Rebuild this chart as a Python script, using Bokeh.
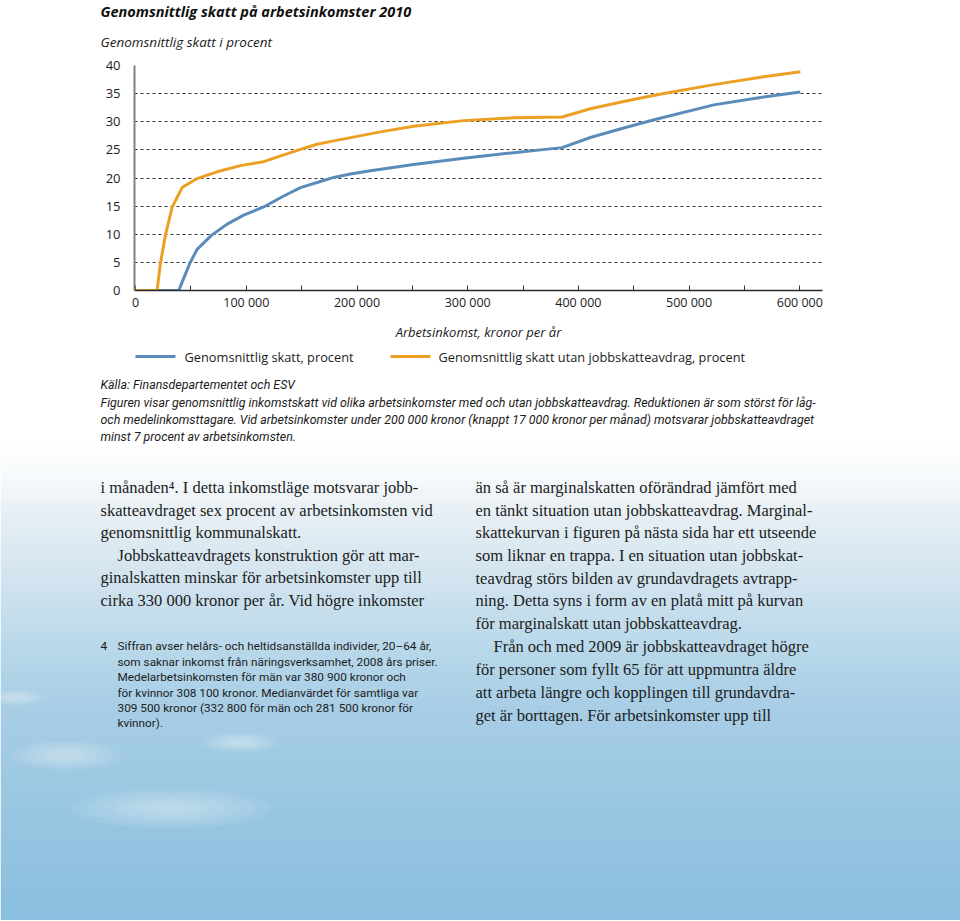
import numpy as np
from bokeh.plotting import figure
from bokeh.models import Range1d, FixedTicker
from bokeh.layouts import column
from bokeh.embed import file_html
from bokeh.resources import INLINE
from bokeh.core.properties import value

# ---------------- data ----------------
inkomst_skatt = [0, 39000, 43500, 48900, 55500, 68500, 82700, 97700, 115700,
                 133800, 148900, 164000, 179000, 194000, 212100, 251200, 296400,
                 341600, 365700, 385300, 410800, 440900, 471000, 522300, 567400, 600500]
skatt = [0, 0, 2.2, 4.8, 7.3, 9.8, 11.8, 13.4, 14.85,
         16.8, 18.3, 19.2, 20.1, 20.7, 21.3, 22.4, 23.5,
         24.5, 25.0, 25.4, 27.2, 28.9, 30.5, 33.0, 34.4, 35.3]

inkomst_utan = [0, 19400, 22400, 26900, 33000, 42000, 55500, 73600, 94700, 115700,
                133800, 148900, 164000, 179000, 200100, 221100, 251200, 296400,
                341600, 385300, 410800, 440900, 471000, 522300, 567400, 600500]
skatt_utan = [0, 0, 4.8, 9.8, 14.8, 18.3, 19.9, 21.1, 22.2, 22.9,
              24.1, 25.1, 26.0, 26.6, 27.4, 28.2, 29.2, 30.2,
              30.7, 30.85, 32.3, 33.6, 34.8, 36.6, 38.0, 38.9]

x_ticks = [0, 50000, 100000, 150000, 200000, 250000, 300000, 350000,
           400000, 450000, 500000, 550000, 600000]
x_tick_labels = ["0", "", "100 000", "", "200 000", "", "300 000", "",
                 "400 000", "", "500 000", "", "600 000"]
y_ticks = [0, 5, 10, 15, 20, 25, 30, 35, 40]

title_text = "Genomsnittlig skatt på arbetsinkomster 2010"
subtitle_text = "Genomsnittlig skatt i procent"
x_title = "Arbetsinkomst, kronor per år"
series_names = ["Genomsnittlig skatt, procent",
                "Genomsnittlig skatt utan jobbskatteavdrag, procent"]

source_lines = [
    "Källa: Finansdepartementet och ESV",
    "Figuren visar genomsnittlig inkomstskatt vid olika arbetsinkomster med och utan jobbskatteavdrag. Reduktionen är som störst för låg-",
    "och medelinkomsttagare. Vid arbetsinkomster under 200 000 kronor (knappt 17 000 kronor per månad) motsvarar jobbskatteavdraget",
    "minst 7 procent av arbetsinkomsten.",
]
left_col = [
    ("i månaden⁴. I detta inkomstläge motsvarar jobb-", 0),
    ("skatteavdraget sex procent av arbetsinkomsten vid", 0),
    ("genomsnittlig kommunalskatt.", 0),
    ("Jobbskatteavdragets konstruktion gör att mar-", 1),
    ("ginalskatten minskar för arbetsinkomster upp till", 0),
    ("cirka 330 000 kronor per år. Vid högre inkomster", 0),
]
right_col = [
    ("än så är marginalskatten oförändrad jämfört med", 0),
    ("en tänkt situation utan jobbskatteavdrag. Marginal-", 0),
    ("skattekurvan i figuren på nästa sida har ett utseende", 0),
    ("som liknar en trappa. I en situation utan jobbskat-", 0),
    ("teavdrag störs bilden av grundavdragets avtrapp-", 0),
    ("ning. Detta syns i form av en platå mitt på kurvan", 0),
    ("för marginalskatt utan jobbskatteavdrag.", 0),
    ("Från och med 2009 är jobbskatteavdraget högre", 1),
    ("för personer som fyllt 65 för att uppmuntra äldre", 0),
    ("att arbeta längre och kopplingen till grundavdra-", 0),
    ("get är borttagen. För arbetsinkomster upp till", 0),
]
footnote_no = "4"
footnote = [
    "Siffran avser helårs- och heltidsanställda individer, 20–64 år,",
    "som saknar inkomst från näringsverksamhet, 2008 års priser.",
    "Medelarbetsinkomsten för män var 380 900 kronor och",
    "för kvinnor 308 100 kronor. Medianvärdet för samtliga var",
    "309 500 kronor (332 800 för män och 281 500 kronor för",
    "kvinnor).",
]

BLUE = "#5a8cba"
ORANGE = "#eca023"
SANS = "'Open Sans', 'Noto Sans', sans-serif"
COND = "Roboto, 'Open Sans', sans-serif"
SERIF = "'Liberation Serif', 'DejaVu Serif', serif"
TXT = "#1c1c1c"

W = 960

# ---------------- top text strip ----------------
HT = 57
pT = figure(width=W, height=HT, output_backend="svg", toolbar_location=None,
            x_range=Range1d(0, W), y_range=Range1d(0, HT),
            x_axis_type=None, y_axis_type=None, min_border=0, frame_align=False)
pT.outline_line_color = None
pT.text(x=[100], y=[HT - 11], text=[title_text], text_font=value(SANS),
        text_font_size="14.5px", text_font_style="bold italic",
        text_baseline="middle", text_color="#111111")
pT.text(x=[100], y=[HT - 41], text=[subtitle_text], text_font=value(SANS),
        text_font_size="13.5px", text_font_style="italic",
        text_baseline="middle", text_color=TXT)

# ---------------- chart ----------------
HA = 288
pA = figure(width=W, height=HA, output_backend="svg", toolbar_location=None,
            x_range=Range1d(-1000, 620500), y_range=Range1d(0, 40),
            min_border_left=134, min_border_right=138, min_border_top=8,
            min_border_bottom=55, frame_align=False)
pA.outline_line_color = None
pA.xgrid.visible = False
pA.ygrid.ticker = FixedTicker(ticks=y_ticks)
pA.ygrid.grid_line_color = "#3a3a3a"
pA.ygrid.grid_line_width = 1.2
pA.ygrid.grid_line_dash = "3 3"

ya = pA.yaxis[0]
ya.ticker = FixedTicker(ticks=y_ticks)
ya.major_tick_line_color = None
ya.minor_tick_line_color = None
ya.axis_line_color = "#808080"
ya.axis_line_width = 2
ya.major_label_text_font = SANS
ya.major_label_text_font_size = "13px"
ya.major_label_text_color = TXT
ya.major_label_standoff = 8

xa = pA.xaxis[0]
xa.ticker = FixedTicker(ticks=x_ticks)
xa.major_label_overrides = dict(zip(x_ticks, x_tick_labels))
xa.major_tick_in = 5
xa.major_tick_out = 0
xa.major_tick_line_color = "#333333"
xa.minor_tick_line_color = None
xa.axis_line_color = "#2a2a2a"
xa.axis_line_width = 1.5
xa.major_label_text_font = SANS
xa.major_label_text_font_size = "12.5px"
xa.major_label_text_color = TXT
xa.major_label_standoff = 3
xa.axis_label = x_title
xa.axis_label_text_font = SANS
xa.axis_label_text_font_size = "13px"
xa.axis_label_text_font_style = "italic"
xa.axis_label_text_color = TXT
xa.axis_label_standoff = 9

pA.line(inkomst_skatt, skatt, line_color=BLUE, line_width=3)
pA.line(inkomst_utan, skatt_utan, line_color=ORANGE, line_width=3)

# ---------------- lower page part (legend, notes, body) ----------------
TOP = HT + HA
BOT = 920
HB = BOT - TOP
pB = figure(width=W, height=HB, output_backend="svg", toolbar_location=None,
            x_range=Range1d(0, W), y_range=Range1d(0, HB),
            x_axis_type=None, y_axis_type=None, min_border=0, frame_align=False)
pB.outline_line_color = None

def Y(py):
    return BOT - py

stop_y = [TOP, 445, 475, 520, 580, 640, 700, 780, 920]
stop_r = [255, 255, 247, 229, 210, 188, 170, 157, 138]
stop_g = [255, 255, 250, 238, 228, 218, 207, 201, 191]
stop_b = [255, 255, 252, 244, 239, 235, 230, 227, 223]
rows_py = BOT - np.arange(HB) - 0.5
img = np.empty((HB, 1), dtype=np.uint32)
view = img.view(dtype=np.uint8).reshape((HB, 1, 4))
view[:, 0, 0] = np.interp(rows_py, stop_y, stop_r).astype(np.uint8)
view[:, 0, 1] = np.interp(rows_py, stop_y, stop_g).astype(np.uint8)
view[:, 0, 2] = np.interp(rows_py, stop_y, stop_b).astype(np.uint8)
view[:, 0, 3] = 255
pB.image_rgba(image=[img], x=0, y=0, dw=W, dh=HB)

# soft white light spots on the water
spot_x = [65, 170, 240, 15]
spot_y = [755, 808, 742, 697]
spot_w = [110, 200, 75, 55]
spot_h = [30, 40, 20, 16]
for k in range(6):
    f = 1.0 - k * 0.15
    pB.ellipse(x=spot_x, y=[Y(v) for v in spot_y],
               width=[w * f for w in spot_w], height=[h * f for h in spot_h],
               fill_color="white", fill_alpha=0.07, line_color=None)

# legend swatches and labels
leg_y = 356
pB.segment(x0=[135, 390], y0=[Y(leg_y), Y(leg_y)], x1=[175, 430], y1=[Y(leg_y), Y(leg_y)],
           line_color=[BLUE, ORANGE], line_width=3)

def txt(x, py, text, font, size, style="normal"):
    pB.text(x=[x], y=[Y(py)], text=[text], text_font=value(font),
            text_font_size=size, text_font_style=style,
            text_baseline="middle", text_color=TXT)

txt(184, leg_y, series_names[0], SANS, "12.8px")
txt(438, leg_y, series_names[1], SANS, "12.8px")

src_y = [384, 402, 419, 436]
for t, yy in zip(source_lines, src_y):
    txt(100, yy, t, COND, "12.4px", "italic")

left_y = [487, 510, 532, 555, 577, 600]
for (t, ind), yy in zip(left_col, left_y):
    txt(100 + 17 * ind, yy, t, SERIF, "16.5px")

right_y = [487, 509.5, 532, 555, 577.5, 600, 623, 646, 668.5, 691.5, 714.5]
for (t, ind), yy in zip(right_col, right_y):
    txt(475 + 18 * ind, yy, t, SERIF, "16.5px")

foot_y = [645, 661, 676.5, 692, 707, 722]
txt(100, foot_y[0], footnote_no, COND, "11.8px")
for t, yy in zip(footnote, foot_y):
    txt(117, yy, t, COND, "11.8px")

layout = column(pT, pA, pB, spacing=0)
open("out.html", "w").write(file_html(layout, INLINE))
